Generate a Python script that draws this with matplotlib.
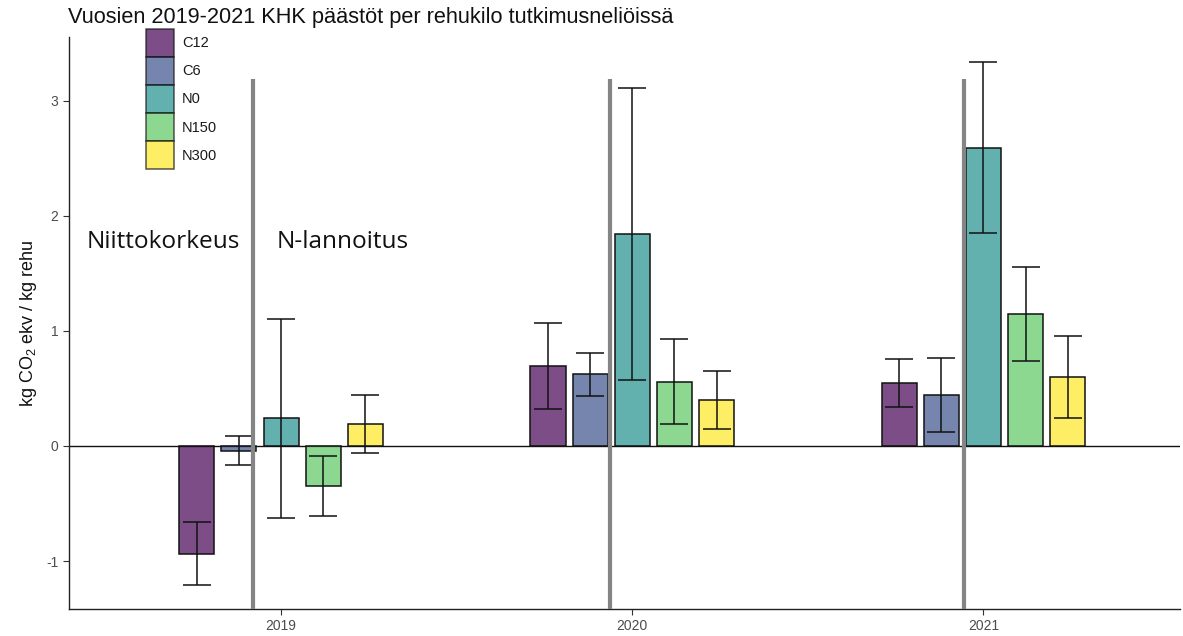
import numpy as np
import matplotlib.pyplot as plt
import matplotlib.patches as mpatches

plt.rcParams['font.family'] = ['Liberation Sans', 'DejaVu Sans']
plt.rcParams['mathtext.fontset'] = 'custom'
plt.rcParams['mathtext.rm'] = 'Liberation Sans'
plt.rcParams['axes.unicode_minus'] = False

############################################
# data: kg CO2 ekv / kg rehu, mean and error half-width
years = [2019, 2020, 2021]
treatments = ['C12', 'C6', 'N0', 'N150', 'N300']
means = {
    'C12':  [-0.935, 0.696, 0.548],
    'C6':   [-0.043, 0.623, 0.443],
    'N0':   [0.243, 1.841, 2.595],
    'N150': [-0.348, 0.560, 1.145],
    'N300': [0.191, 0.400, 0.600],
}
errors = {
    'C12':  [0.270, 0.377, 0.205],
    'C6':   [0.126, 0.185, 0.319],
    'N0':   [0.865, 1.270, 0.742],
    'N150': [0.265, 0.373, 0.410],
    'N300': [0.254, 0.252, 0.357],
}
# separator lines between cutting height and N fertilisation treatments
sep_x = [2018.92, 2019.937, 2020.946]
sep_top = 3.19

colors = ['#440154', '#3B528B', '#21908C', '#5DC863', '#FDE725']

#############################################
## Plotting Data
fig = plt.figure(figsize=(11.83, 6.36), dpi=100)
ax = fig.add_axes([0.0583, 0.0425, 0.9392, 0.8995])

pitch = 0.12
width = 0.10
x = np.array(years, dtype=float)
handles = []
for i, t in enumerate(treatments):
    xi = x + (i - 2) * pitch
    ax.bar(xi, means[t], width=width, color=colors[i], alpha=0.7,
           edgecolor='none', zorder=2)
    ax.bar(xi, means[t], width=width, facecolor='none',
           edgecolor='#111111', linewidth=1.1, zorder=2.1)
    ax.errorbar(xi, means[t], yerr=errors[t], fmt='none', ecolor='#111111',
                elinewidth=1.1, capsize=10, capthick=1.1, zorder=3)
    handles.append(mpatches.Patch(facecolor=colors[i], alpha=0.7,
                                  edgecolor='#111111', linewidth=1.1))

ax.axhline(0, color='#111111', linewidth=1.0, zorder=1)
ylo = -1.417
for sx in sep_x:
    ax.plot([sx, sx], [ylo, sep_top], color='#858585', linewidth=3,
            solid_capstyle='butt', zorder=4)

ax.text(2018.445, 1.77, 'Niittokorkeus', family=['Open Sans', 'DejaVu Sans'],
        fontsize=17.6, va='center', ha='left', color='#111111')
ax.text(2018.988, 1.77, 'N-lannoitus', family=['Open Sans', 'DejaVu Sans'],
        fontsize=17.6, va='center', ha='left', color='#111111')

# options
ax.set_xlim(2018.396, 2021.56)
ax.set_ylim(ylo, 3.557)
ax.set_xticks(years)
ax.set_xticklabels([str(y) for y in years])
ax.set_yticks([-1, 0, 1, 2, 3])
ax.tick_params(colors='#333333', labelcolor='#4d4d4d', labelsize=10,
               length=4, width=0.8)
for side in ['top', 'right']:
    ax.spines[side].set_visible(False)
for side in ['left', 'bottom']:
    ax.spines[side].set_color('#222222')
    ax.spines[side].set_linewidth(1.0)

ax.set_ylabel(r'kg CO$_\mathregular{2}$ ekv / kg rehu', fontsize=13,
              labelpad=5, color='#111111')
fig.text(68 / 1183, 1 - 23 / 636,
         'Vuosien 2019-2021 KHK päästöt per rehukilo tutkimusneliöissä',
         fontsize=15.7, va='baseline', ha='left', color='#111111')

leg = ax.legend(handles, treatments, loc='upper left',
                bbox_to_anchor=(146 / 1183, 1 - 29 / 636),
                bbox_transform=fig.transFigure, frameon=False,
                fontsize=10.5, handlelength=1.92, handleheight=2.58,
                labelspacing=0.0, handletextpad=0.55, borderpad=0,
                borderaxespad=0)
for txt in leg.get_texts():
    txt.set_color('#1a1a1a')

fig.savefig('out.png', dpi=100)
